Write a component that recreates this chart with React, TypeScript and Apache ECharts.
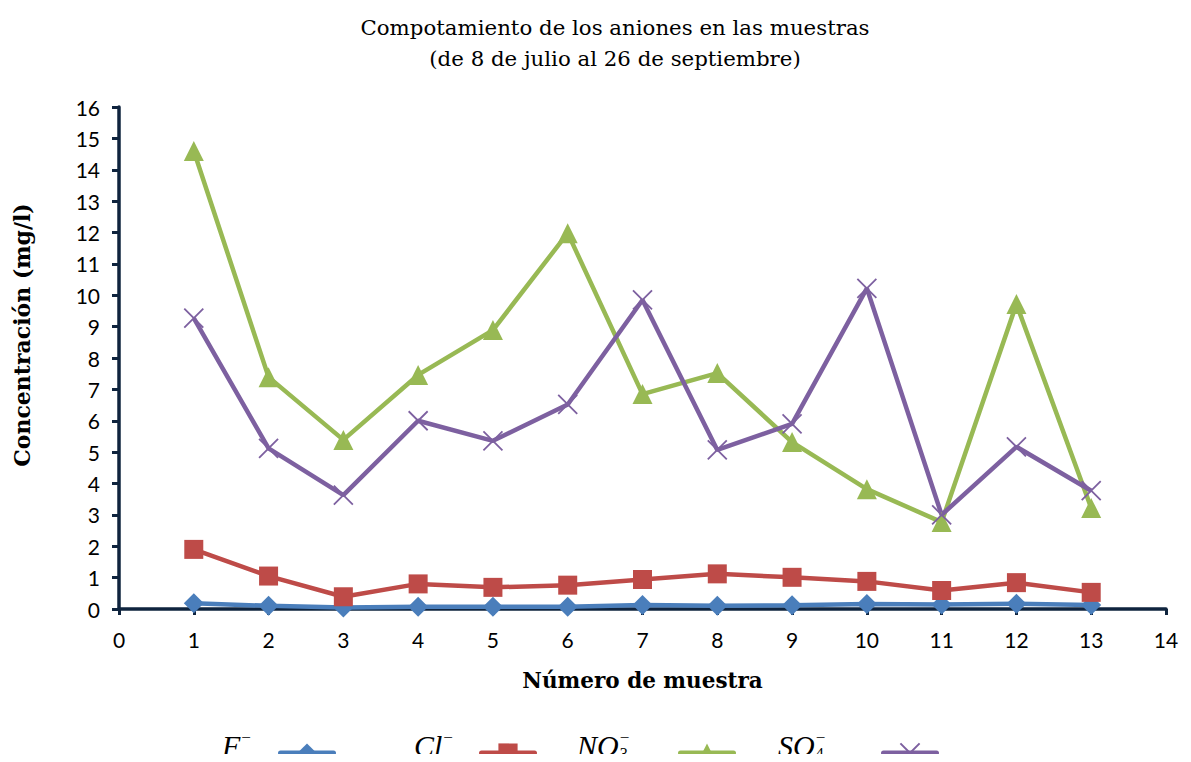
import React, { useEffect, useRef } from "react";
import * as echarts from "echarts";

// Sample numbers (x axis) and anion concentrations in mg/l
const muestras = [1, 2, 3, 4, 5, 6, 7, 8, 9, 10, 11, 12, 13];
const fluoruro = [0.18, 0.1, 0.05, 0.07, 0.07, 0.07, 0.13, 0.1, 0.12, 0.16, 0.14, 0.17, 0.13];
const cloruro = [1.9, 1.05, 0.39, 0.8, 0.69, 0.76, 0.94, 1.12, 1.01, 0.88, 0.59, 0.84, 0.53];
const nitrato = [14.6, 7.39, 5.39, 7.46, 8.89, 11.98, 6.85, 7.52, 5.32, 3.82, 2.77, 9.72, 3.22];
const sulfato = [9.27, 5.12, 3.63, 6.0, 5.36, 6.52, 9.85, 5.07, 5.9, 10.22, 3.0, 5.17, 3.77];

// Ion symbols: base letters, subscript and charge
const seriesNames = ["F⁻", "Cl⁻", "NO₃⁻", "SO₄⁻"];
const ionBase = ["F", "Cl", "NO", "SO"];
const ionSub = ["", "", "3", "4"];
const ionCharge = "−";

const colors = ["#4a7ebb", "#be4b48", "#98b954", "#7d60a0"];
const axisColor = "#0f243e";
const labelFont = "Lato, 'Open Sans', sans-serif";
const serifFont = "'DejaVu Serif', 'Liberation Serif', serif";
const mathFont = "'Liberation Serif', 'DejaVu Serif', serif";

const toPairs = (vals: number[]) => muestras.map((m, i) => [m, vals[i]]);

export default function App() {
  const ref = useRef<HTMLDivElement>(null);

  useEffect(() => {
    if (!ref.current) return;
    const chart = echarts.init(ref.current, undefined, { renderer: "svg" });

    const baseSeries = (name: string, vals: number[], color: string, symbol: string, size: number) => ({
      name,
      type: "line",
      data: toPairs(vals),
      symbol,
      symbolSize: size,
      lineStyle: { color, width: 4.5 },
      itemStyle: { color, borderColor: color, borderWidth: 0 },
      z: 3,
    });

    const crossSymbol = "path://M0,0L10,10M10,0L0,10";

    // legend swatches (line + marker) sit to the right of each ion label
    const iconLeft = [278, 479, 678, 881];
    const legends = seriesNames.map((n, i) => ({
      data: [n],
      left: iconLeft[i],
      top: 741,
      padding: 0,
      itemWidth: 53,
      itemHeight: 24,
      lineStyle: { width: 5, cap: "round" },
      formatter: () => "",
    }));

    // ion labels written with base letters, subscript and charge
    const labelLeft = [222, 414, 577, 778];
    const baseFont = `italic 30px ${mathFont}`;
    const labelGraphics: any[] = [];
    ionBase.forEach((b, i) => {
      const baseW = (echarts.format as any).getTextRect
        ? (echarts.format as any).getTextRect(b, baseFont).width
        : b.length * 18;
      const x0 = labelLeft[i];
      labelGraphics.push({
        type: "text",
        x: x0,
        y: 745,
        style: { text: b, font: baseFont, fill: "#000", verticalAlign: "middle", align: "left" },
      });
      labelGraphics.push({
        type: "text",
        x: x0 + baseW + 1,
        y: 737,
        style: { text: ionCharge, font: `17px ${mathFont}`, fill: "#000", verticalAlign: "middle", align: "left" },
      });
      if (ionSub[i]) {
        labelGraphics.push({
          type: "text",
          x: x0 + baseW + 1,
          y: 753.5,
          style: { text: ionSub[i], font: `16px ${mathFont}`, fill: "#000", verticalAlign: "middle", align: "left" },
        });
      }
    });

    chart.setOption({
      animation: false,
      backgroundColor: "#fff",
      title: {
        text: "Compotamiento de los aniones en las muestras\n(de 8 de julio al 26 de septiembre)",
        left: 610,
        top: 7,
        textAlign: "center",
        textStyle: { fontFamily: serifFont, fontWeight: "normal", fontSize: 21.3, lineHeight: 31, color: "#000" },
      },
      legend: legends,
      graphic: labelGraphics,
      grid: { left: 119, right: 25, top: 107, bottom: 153, containLabel: false },
      xAxis: {
        type: "value",
        min: 0,
        max: 14,
        interval: 1,
        name: "Número de muestra",
        nameLocation: "middle",
        nameGap: 60,
        nameTextStyle: { fontFamily: serifFont, fontWeight: "bold", fontSize: 21.5, color: "#000" },
        axisLine: { show: true, lineStyle: { color: axisColor, width: 3.5 } },
        axisTick: { show: true, length: 6, lineStyle: { color: axisColor, width: 3 } },
        axisLabel: { fontFamily: labelFont, fontSize: 21, color: "#000", margin: 20 },
        splitLine: { show: false },
      },
      yAxis: {
        type: "value",
        min: 0,
        max: 16,
        interval: 1,
        name: "Concentración (mg/l)",
        nameLocation: "middle",
        nameGap: 86,
        nameTextStyle: { fontFamily: serifFont, fontWeight: "bold", fontSize: 22, color: "#000", padding: [0, 0, 0, 46] },
        axisLine: { show: true, lineStyle: { color: axisColor, width: 3.5 } },
        axisTick: { show: true, length: 7, lineStyle: { color: axisColor, width: 3 } },
        axisLabel: { fontFamily: labelFont, fontSize: 21, color: "#000", margin: 19 },
        splitLine: { show: false },
      },
      series: [
        baseSeries(seriesNames[0], fluoruro, colors[0], "diamond", 20),
        baseSeries(seriesNames[1], cloruro, colors[1], "rect", 19),
        baseSeries(seriesNames[2], nitrato, colors[2], "triangle", 20),
        {
          ...baseSeries(seriesNames[3], sulfato, colors[3], crossSymbol, 19),
          itemStyle: { color: colors[3], borderColor: colors[3], borderWidth: 1.8 },
        },
      ],
    });

    return () => chart.dispose();
  }, []);

  return <div ref={ref} style={{ width: 1191, height: 762, margin: -8 }} />;
}
